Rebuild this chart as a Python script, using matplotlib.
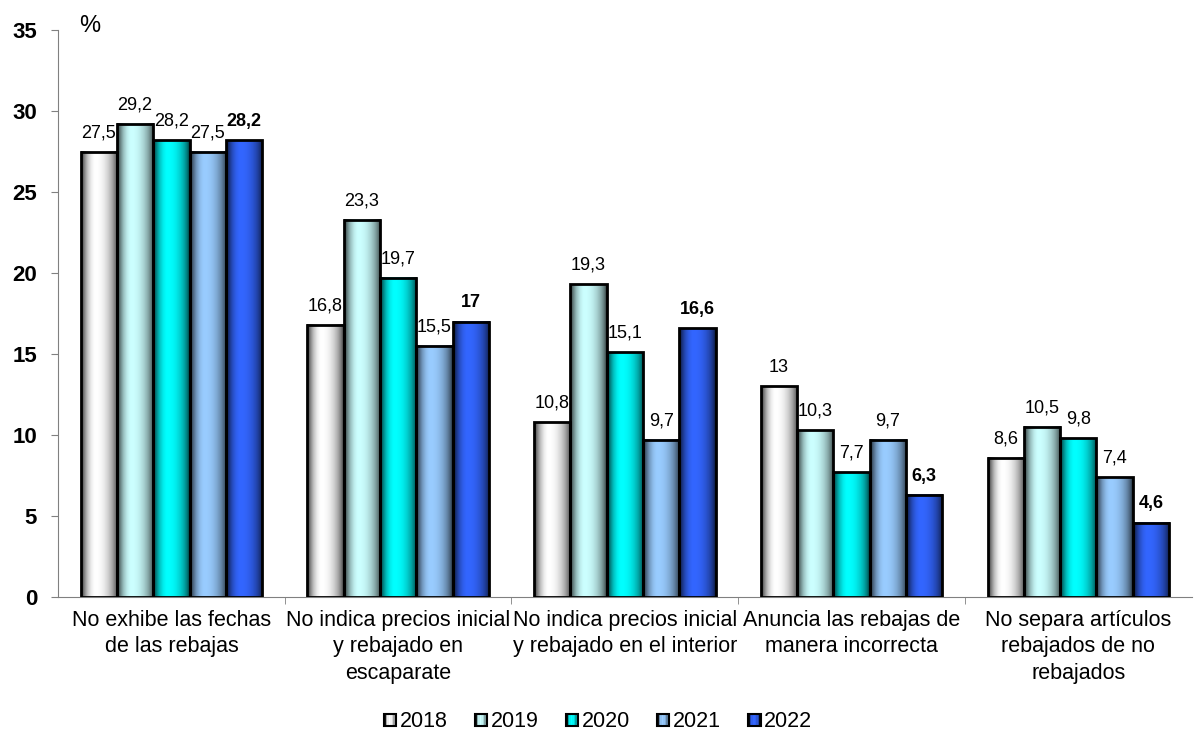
import matplotlib.pyplot as plt
import numpy as np
from matplotlib.patches import Rectangle
from matplotlib.colors import to_rgb
from matplotlib.legend_handler import HandlerBase

plt.rcParams['font.family'] = ['Liberation Sans', 'DejaVu Sans']

categorias = ["No exhibe las fechas\nde las rebajas",
              "No indica precios inicial\ny rebajado en\nescaparate",
              "No indica precios inicial\ny rebajado en el interior",
              "Anuncia las rebajas de\nmanera incorrecta",
              "No separa artículos\nrebajados de no\nrebajados"]
anios = ["2018", "2019", "2020", "2021", "2022"]
v2018 = [27.5, 16.8, 10.8, 13, 8.6]
v2019 = [29.2, 23.3, 19.3, 10.3, 10.5]
v2020 = [28.2, 19.7, 15.1, 7.7, 9.8]
v2021 = [27.5, 15.5, 9.7, 9.7, 7.4]
v2022 = [28.2, 17, 16.6, 6.3, 4.6]
series = [v2018, v2019, v2020, v2021, v2022]
colores = ["#FFFFFF", "#CCFFFF", "#00FFFF", "#99CCFF", "#3366FF"]


def gradiente(color, n=64):
    t = np.linspace(0, 1, n)
    # oscuro en los bordes, claro cerca del centro
    f = np.where(t < 0.4, np.sin(t / 0.4 * np.pi / 2) ** 0.7,
                 np.cos((t - 0.4) / 0.6 * np.pi / 2) ** 0.5)
    f = 0.08 + 0.92 * f
    c = np.array(to_rgb(color))
    return (f[:, None] * c[None, :])[None, :, :]


class HandlerGrad(HandlerBase):
    def create_artists(self, legend, orig, xd, yd, w, h, fontsize, trans):
        s = h * 0.8
        x0 = xd + (w - s) / 2
        y0 = yd + (h - s) / 2
        col = orig.get_facecolor()
        arts = []
        n = 8
        for i in range(n):
            f = gradiente(col, n)[0, i]
            r = Rectangle((x0 + i * s / n, y0), s / n, s, facecolor=f,
                          edgecolor='none', transform=trans)
            arts.append(r)
        arts.append(Rectangle((x0, y0), s, s, facecolor='none',
                              edgecolor='black', lw=1.5, transform=trans))
        return arts


fig = plt.figure(figsize=(11.94, 7.34), dpi=100)
ax = fig.add_axes([0.0486, 0.1866, 0.9494, 0.7725])

x = np.arange(len(categorias))
ancho = 0.16
handles = []
for i, (vals, col, anio) in enumerate(zip(series, colores, anios)):
    pos = x + (i - 2) * ancho
    bars = ax.bar(pos, vals, ancho, facecolor='none', edgecolor='black',
                  lw=2, zorder=3)
    for b, v in zip(bars, vals):
        x0 = b.get_x()
        ax.imshow(gradiente(col), extent=(x0, x0 + ancho, 0, v),
                  aspect='auto', zorder=2, interpolation='bilinear')
        txt = f"{v:g}".replace('.', ',')
        ax.annotate(txt, (x0 + ancho / 2, v), xytext=(0, 7.5),
                    textcoords='offset points', ha='center', va='bottom',
                    fontsize=13, fontweight='bold' if i == 4 else 'normal',
                    zorder=4)
    handles.append(Rectangle((0, 0), 1, 1, facecolor=col, label=anio))

ax.set_xlim(-0.5, len(categorias) - 0.5)
ax.set_ylim(0, 35)
ax.set_yticks(range(0, 36, 5))
ax.set_yticklabels([str(v) for v in range(0, 36, 5)], fontsize=16,
                   fontweight='bold')
ax.set_xticks(x)
ax.set_xticklabels(categorias, fontsize=15.5, va='top', linespacing=1.35)
ax.set_xticks(np.arange(0.5, len(categorias) - 0.5, 1), minor=True)
ax.tick_params(axis='x', which='major', length=0, pad=9)
ax.tick_params(axis='x', which='minor', length=5, color='#808080',
               direction='out')
ax.tick_params(axis='y', length=5, direction='out', color='#808080', pad=10)
for s in ['top', 'right']:
    ax.spines[s].set_visible(False)
ax.spines['left'].set_color('#808080')
ax.spines['bottom'].set_color('#808080')

fig.text(0.075, 0.965, "%", fontsize=17, ha='center', va='center')

fig.legend(handles=handles, loc='lower center', bbox_to_anchor=(0.5, -0.024),
           ncol=5, frameon=False, fontsize=15.5, handlelength=0.8,
           handletextpad=0.05, columnspacing=1.15,
           handler_map={Rectangle: HandlerGrad()})

fig.savefig("out.png", dpi=100)
